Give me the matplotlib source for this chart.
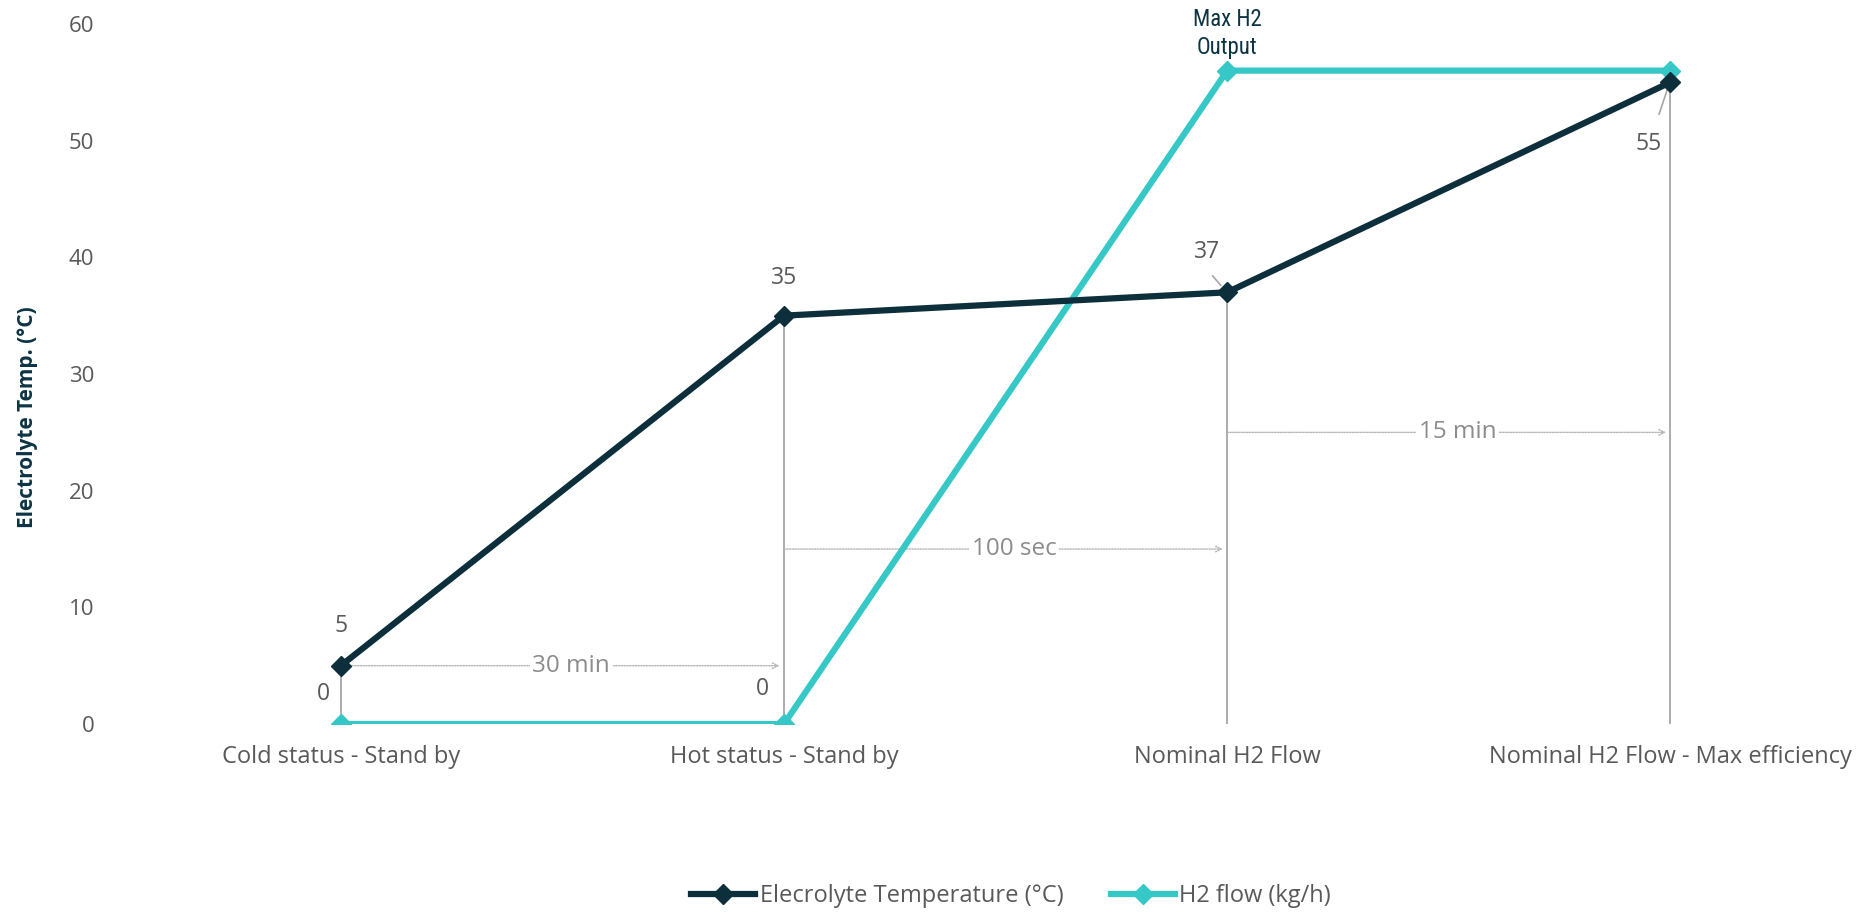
import matplotlib
matplotlib.use("Agg")
import matplotlib.pyplot as plt
from matplotlib import font_manager

plt.rcParams['font.family'] = ['Open Sans', 'DejaVu Sans']

# ---- data ----
categories = ["Cold status - Stand by", "Hot status - Stand by",
              "Nominal H2 Flow", "Nominal H2 Flow - Max efficiency"]
temperature = [5, 35, 37, 55]
h2_flow = [0, 0, 56, 56]
temp_labels = ["5", "35", "37", "55"]
flow_labels = ["0", "0", "Max H2\nOutput", ""]
durations = ["30 min", "100 sec", "15 min"]
duration_levels = [5, 15, 25]
y_ticks = [0, 10, 20, 30, 40, 50, 60]

DARK = "#0c2f3b"
CYAN = "#36c8c6"
GREY_TXT = "#595959"
GUIDE = "#a6a6a6"

installed = {f.name for f in font_manager.fontManager.ttflist}
NARROW = ['Liberation Sans Narrow', 'Open Sans'] if 'Liberation Sans Narrow' in installed \
    else ['Roboto Condensed', 'Open Sans'] if 'Roboto Condensed' in installed \
    else ['Roboto', 'Open Sans']

fig = plt.figure(figsize=(18.76, 9.14), dpi=100)
ax = fig.add_axes([0.0517, 0.2078, 0.945, 0.766])

x = list(range(len(categories)))

# drop lines from each temperature point down to the baseline
for xi, t in zip(x, temperature):
    ax.plot([xi, xi], [0, t], color=GUIDE, lw=1.3, zorder=1)

# duration arrows between consecutive stages
for i, (lab, lvl) in enumerate(zip(durations, duration_levels)):
    ax.annotate("", xy=(x[i + 1] - 0.01, lvl), xytext=(x[i], lvl),
                arrowprops=dict(arrowstyle="->", color="#b5b5b5", lw=1.0,
                                linestyle=(0, (1, 1)), shrinkA=0, shrinkB=0),
                zorder=1)
    ax.text((x[i] + x[i + 1]) / 2 + 0.02, lvl, lab, ha="center", va="center",
            fontsize=17.5, color="#8c8c8c", zorder=2,
            bbox=dict(facecolor="white", edgecolor="none", pad=2))

ax.plot(x, temperature, color=DARK, lw=4.5, marker="D", ms=10,
        label="Elecrolyte Temperature (°C)", zorder=4)
ax.plot(x, h2_flow, color=CYAN, lw=4.5, marker="D", ms=10,
        label="H2 flow (kg/h)", zorder=3)

# value labels
temp_offsets = [(0, 40), (0, 38), (-20, 40), (-22, -62)]
for xi, t, lab, off in zip(x, temperature, temp_labels, temp_offsets):
    ax.annotate(lab, xy=(xi, t), xytext=off, textcoords="offset pixels",
                ha="center", va="center", fontsize=16.5, color=GREY_TXT)
# leader lines for the offset labels
ax.annotate("", xy=(x[2] - 0.01, temperature[2] + 0.4), xytext=(-12, 14),
            textcoords="offset pixels",
            arrowprops=dict(arrowstyle="-", color=GUIDE, lw=1.2))
ax.annotate("", xy=(x[3] - 0.005, temperature[3] - 0.4), xytext=(-10, -30),
            textcoords="offset pixels",
            arrowprops=dict(arrowstyle="-", color=GUIDE, lw=1.2))

flow_offsets = [(-17, 30), (-22, 35), (0, 37), (0, 0)]
for xi, f, lab, off in zip(x, h2_flow, flow_labels, flow_offsets):
    if not lab:
        continue
    if "\n" in lab:
        ax.annotate(lab, xy=(xi, f), xytext=off, textcoords="offset pixels",
                    ha="center", va="center", fontsize=16.5, color="#0d3444",
                    family=NARROW, linespacing=1.25, annotation_clip=False)
    else:
        ax.annotate(lab, xy=(xi, f), xytext=off, textcoords="offset pixels",
                    ha="center", va="center", fontsize=16.5, color=GREY_TXT)

ax.set_xlim(-0.55, 3.45)
ax.set_ylim(0, 60)
ax.set_xticks(x)
ax.set_xticklabels(categories, fontsize=17, color=GREY_TXT)
ax.set_yticks(y_ticks)
ax.set_yticklabels([str(v) for v in y_ticks], fontsize=16, color=GREY_TXT)
ax.tick_params(axis="both", length=0)
ax.tick_params(axis="y", pad=2)
ax.tick_params(axis="x", pad=15)
for s in ax.spines.values():
    s.set_visible(False)

ax.set_ylabel("Electrolyte Temp. (°C)", fontsize=15, fontweight="bold",
              color="#0d3444")
ax.yaxis.set_label_coords(-0.0333, 0.439)

fig.legend(loc="center", bbox_to_anchor=(0.539, 0.0197), ncol=2,
           frameon=False, handlelength=2.7, handletextpad=0.2,
           columnspacing=2.0, labelcolor=GREY_TXT,
           prop=dict(size=17))

fig.savefig("out.png", dpi=100)
